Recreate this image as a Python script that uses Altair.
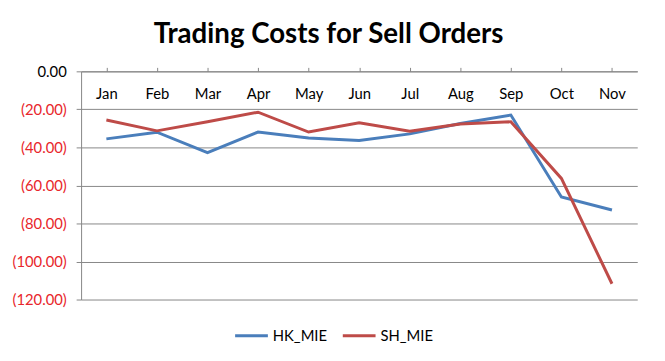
import altair as alt
import pandas as pd

months = ["Jan", "Feb", "Mar", "Apr", "May", "Jun", "Jul", "Aug", "Sep", "Oct", "Nov"]
hk_mie = [-35.5, -32.0, -42.8, -31.9, -35.0, -36.4, -32.9, -27.4, -23.0, -66.1, -72.9]
sh_mie = [-25.6, -31.3, -26.5, -21.5, -31.9, -27.0, -31.5, -27.7, -26.5, -56.3, -111.7]
series_names = ["HK_MIE", "SH_MIE"]
series_colors = ["#4A7EBB", "#BE4B48"]

rows = []
for name, vals in zip(series_names, [hk_mie, sh_mie]):
    for m, v in zip(months, vals):
        rows.append({"Month": m, "Value": v, "Series": name})
df = pd.DataFrame(rows)

FONT = "Lato"

chart = alt.Chart(df).mark_line(strokeWidth=3).encode(
    x=alt.X("Month:N", sort=months, title=None,
            scale=alt.Scale(paddingInner=0, paddingOuter=0),
            axis=alt.Axis(orient="top", labelAngle=0, tickSize=4, labelPadding=-19,
                          labelBaseline="top", labelFontSize=15, labelColor="black",
                          labelFont=FONT, labelFontWeight="normal",
                          domainColor="#868686", tickColor="#868686",
                          bandPosition=0, grid=False)),
    y=alt.Y("Value:Q", title=None,
            scale=alt.Scale(domain=[-120, 0], nice=False, zero=False),
            axis=alt.Axis(values=[0, -20, -40, -60, -80, -100, -120], tickSize=5,
                          labelExpr="datum.value < 0 ? '(' + format(-datum.value, '.2f') + ')' : format(datum.value, '.2f')",
                          labelColor=alt.condition("datum.value < 0", alt.value("#E8262B"), alt.value("black")),
                          labelFontSize=15, labelFont=FONT, labelPadding=10,
                          domainColor="#868686", tickColor="#868686",
                          grid=True, gridColor="#868686")),
    color=alt.Color("Series:N", scale=alt.Scale(domain=series_names, range=series_colors),
                    legend=alt.Legend(orient="none", legendX=154, legendY=249,
                                      direction="horizontal", title=None,
                                      symbolType="stroke", symbolStrokeWidth=3, symbolSize=1100,
                                      labelFontSize=15, labelFont=FONT, labelOffset=3,
                                      columnPadding=8, labelColor="black")),
).properties(
    width=563, height=231,
    autosize=alt.AutoSizeParams(type="none"),
    padding={"left": 74, "top": 62, "right": 20, "bottom": 52},
    title=alt.TitleParams("Trading Costs for Sell Orders", fontSize=28, font=FONT,
                          fontWeight="bold", anchor="middle", offset=16, dx=-31,
                          color="black"),
).configure_view(stroke=None)

chart.save("out.html", embed_options={"renderer": "svg", "actions": False})
